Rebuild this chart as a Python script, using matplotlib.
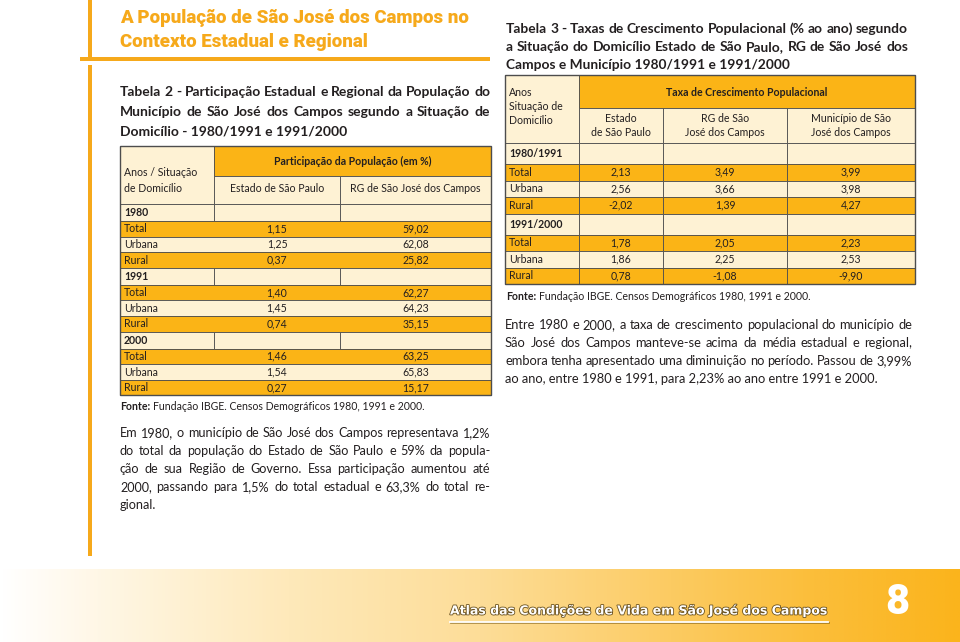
import matplotlib.pyplot as plt
import matplotlib.patheffects as pe
import numpy as np
from matplotlib.patches import Rectangle
from matplotlib.colors import LinearSegmentedColormap

# ---- data ----
t2_groups = ['1980', '1991', '2000']
t2_rows = ['Total', 'Urbana', 'Rural']
t2_estado = [[1.15, 1.25, 0.37], [1.40, 1.45, 0.74], [1.46, 1.54, 0.27]]
t2_rg = [[59.02, 62.08, 25.82], [62.27, 64.23, 35.15], [63.25, 65.83, 15.17]]

t3_groups = ['1980/1991', '1991/2000']
t3_rows = ['Total', 'Urbana', 'Rural']
t3_estado = [[2.13, 2.56, -2.02], [1.78, 1.86, 0.78]]
t3_rg = [[3.49, 3.66, 1.39], [2.05, 2.25, -1.08]]
t3_mun = [[3.99, 3.98, 4.27], [2.23, 2.53, -9.90]]

title = ['A População de São José dos Campos no', 'Contexto Estadual e Regional']
t2_title = ['Tabela 2 - Participação Estadual e Regional da População do',
            'Município de São José dos Campos segundo a Situação de',
            'Domicílio - 1980/1991 e 1991/2000']
t3_title = ['Tabela 3 - Taxas de Crescimento Populacional (% ao ano) segundo',
            'a Situação do Domicílio Estado de São Paulo, RG de São José dos',
            'Campos e Município 1980/1991 e 1991/2000']
fonte = 'Fundação IBGE. Censos Demográficos 1980, 1991 e 2000.'
par_left = ['Em 1980, o município de São José dos Campos representava 1,2%',
            'do total da população do Estado de São Paulo e 59% da popula-',
            'ção de sua Região de Governo. Essa participação aumentou até',
            '2000, passando para 1,5% do total estadual e 63,3% do total re-',
            'gional.']
par_right = ['Entre 1980 e 2000, a taxa de crescimento populacional do município de',
             'São José dos Campos manteve-se acima da média estadual e regional,',
             'embora tenha apresentado uma diminuição no período. Passou de 3,99%',
             'ao ano, entre 1980 e 1991, para 2,23% ao ano entre 1991 e 2000.']
footer = 'Atlas das Condições de Vida em São José dos Campos'
page = '8'

ORANGE = '#FBB416'
CREAM = '#FEF2D4'
GOLD = '#F6A91B'
EDGE = '#4d4d4d'
TXT = '#231f20'
FONT = 'Lato'
FS = 7.6

fig = plt.figure(figsize=(9.6, 6.42), dpi=100)
ax = fig.add_axes([0, 0, 1, 1])
ax.set_xlim(0, 960)
ax.set_ylim(642, 0)
ax.axis('off')
r = fig.canvas.get_renderer()


def fmt(v):
    return f'{v:.2f}'.replace('.', ',')


def width_of(s, size, weight='normal', family=FONT):
    t = ax.text(0, 0, s, fontsize=size, fontweight=weight, family=family)
    w = t.get_window_extent(r).width
    t.remove()
    return w


def fit_size(s, w, weight='normal', family=FONT):
    return 10 * w / width_of(s, 10, weight, family)


def justify(lines, x0, x1, y0, dy, size, weight='normal', color=TXT, last_left=True):
    for i, line in enumerate(lines):
        y = y0 + i * dy
        words = line.split()
        if (i == len(lines) - 1 and last_left) or len(words) < 2:
            ax.text(x0, y, line, fontsize=size, fontweight=weight, family=FONT,
                    color=color, va='center')
            continue
        ts = [ax.text(0, y, w, fontsize=size, fontweight=weight, family=FONT,
                      color=color, va='center') for w in words]
        ws = [t.get_window_extent(r).width for t in ts]
        gap = (x1 - x0 - sum(ws)) / (len(words) - 1)
        x = x0
        for t, w in zip(ts, ws):
            t.set_x(x)
            x += w + gap


def cell(x0, x1, y0, y1, fc, lw=0.6):
    ax.add_patch(Rectangle((x0, y0), x1 - x0, y1 - y0, facecolor=fc,
                           edgecolor=EDGE, lw=lw))


def label(x, y, s, ha='left', weight='normal'):
    ax.text(x, y, s, fontsize=FS, fontweight=weight, family=FONT, color=TXT,
            ha=ha, va='center')


# ---- left orange rule ----
ax.add_patch(Rectangle((88, 0), 4, 57, color=GOLD, lw=0))
ax.add_patch(Rectangle((88, 65), 4, 491, color=GOLD, lw=0))
ax.add_patch(Rectangle((80, 57), 410, 4, color=GOLD, lw=0))

# ---- title ----
ts = fit_size(title[0], 349, 'heavy', 'Roboto')
for i, line in enumerate(title):
    ax.text(120, 18 + i * 24, line, fontsize=ts, fontweight='heavy', family='Roboto',
            color=GOLD, va='center')

# ---- table 2 ----
justify(t2_title, 120, 490, 92, 19.5, fit_size(t2_title[0], 370, 'bold'), weight='bold')

c0, c1, c2, c3 = 120, 214, 340, 491
cell(c0, c1, 146, 204, CREAM)
cell(c1, c3, 146, 176, ORANGE)
cell(c1, c2, 176, 204, CREAM)
cell(c2, c3, 176, 204, CREAM)
label(124, 173, 'Anos / Situação')
label(124, 188, 'de Domicílio')
label((c1 + c3) / 2, 161, 'Participação da População (em %)', 'center', 'bold')
label((c1 + c2) / 2, 188, 'Estado de São Paulo', 'center')
label((c2 + c3) / 2, 188, 'RG de São José dos Campos', 'center')

y = 204
year_h, row_h = 17, 15.6
for g, grp in enumerate(t2_groups):
    for a, b in [(c0, c1), (c1, c2), (c2, c3)]:
        cell(a, b, y, y + year_h, CREAM)
    label(124, y + year_h / 2, grp, weight='bold')
    y += year_h
    for k, lab in enumerate(t2_rows):
        fc = ORANGE if k != 1 else CREAM
        cell(c0, c3, y, y + row_h, fc)
        label(124, y + row_h / 2, lab)
        label((c1 + c2) / 2, y + row_h / 2, fmt(t2_estado[g][k]), 'center')
        label((c2 + c3) / 2, y + row_h / 2, fmt(t2_rg[g][k]), 'center')
        y += row_h
ax.add_patch(Rectangle((c0, 146), c3 - c0, y - 146, fill=False, edgecolor=EDGE, lw=1.0))

ax.text(120, 407, 'Fonte:', fontsize=7.6, fontweight='bold', family=FONT, color=TXT, va='center')
ax.text(120 + width_of('Fonte: ', 7.6, 'bold'), 407, fonte, fontsize=7.6, family=FONT,
        color=TXT, va='center')

justify(par_left, 120, 490, 433, 18, fit_size(par_left[0], 366))

# ---- table 3 ----
justify(t3_title, 506, 908, 29, 18, fit_size(t3_title[0], 402, 'bold'), weight='bold')

d0, d1, d2, d3, d4 = 505, 579, 663, 787, 915
cell(d0, d1, 75, 143, CREAM)
cell(d1, d4, 75, 108, ORANGE)
for a, b in [(d1, d2), (d2, d3), (d3, d4)]:
    cell(a, b, 108, 143, CREAM)
for i, s in enumerate(['Anos', 'Situação de', 'Domicílio']):
    label(509, 92 + i * 14, s)
label((d1 + d4) / 2, 92, 'Taxa de Crescimento Populacional', 'center', 'bold')
heads = [('Estado', 'de São Paulo'), ('RG de São', 'José dos Campos'),
         ('Município de São', 'José dos Campos')]
for (a, b), (h1, h2) in zip([(d1, d2), (d2, d3), (d3, d4)], heads):
    label((a + b) / 2, 118, h1, 'center')
    label((a + b) / 2, 133, h2, 'center')

y = 143
year_h, row_h = 21, 16.5
for g, grp in enumerate(t3_groups):
    for a, b in [(d0, d1), (d1, d2), (d2, d3), (d3, d4)]:
        cell(a, b, y, y + year_h, CREAM)
    label(509, y + year_h / 2, grp, weight='bold')
    y += year_h
    for k, lab in enumerate(t3_rows):
        fc = ORANGE if k != 1 else CREAM
        for a, b in [(d0, d1), (d1, d2), (d2, d3), (d3, d4)]:
            cell(a, b, y, y + row_h, fc)
        label(509, y + row_h / 2, lab)
        for (a, b), vals in zip([(d1, d2), (d2, d3), (d3, d4)], [t3_estado, t3_rg, t3_mun]):
            label((a + b) / 2, y + row_h / 2, fmt(vals[g][k]), 'center')
        y += row_h
ax.add_patch(Rectangle((d0, 75), d4 - d0, y - 75, fill=False, edgecolor=EDGE, lw=1.0))

ax.text(506, 297, 'Fonte:', fontsize=7.6, fontweight='bold', family=FONT, color=TXT, va='center')
ax.text(506 + width_of('Fonte: ', 7.6, 'bold'), 297, fonte, fontsize=7.6, family=FONT,
        color=TXT, va='center')

justify(par_right, 505, 912, 325, 18, fit_size(par_right[0], 404))

# ---- footer band ----
cmap = LinearSegmentedColormap.from_list('band', [
    (0.0, '#FFFFFF'), (0.1, '#FFF7E6'), (0.3, '#FEE9BA'), (0.5, '#FDDD98'),
    (0.7, '#FCCB62'), (0.85, '#FBBE3A'), (1.0, '#FBB41C')])
ax.imshow(np.linspace(0, 1, 512)[None, :], cmap=cmap, aspect='auto',
          extent=[0, 960, 642, 569], zorder=0)
ax.set_xlim(0, 960)
ax.set_ylim(642, 0)

fs = fit_size(footer, 378, 'bold', 'Liberation Sans Narrow')
ax.text(450, 611, footer, fontsize=fs, fontweight='bold', family='Liberation Sans Narrow',
        color='white', va='center', path_effects=[pe.withStroke(linewidth=1.2, foreground='#6a5220')])
ax.plot([450, 828], [622, 622], color='white', lw=1.3,
        path_effects=[pe.SimpleLineShadow(offset=(0.6, -0.6), shadow_color='#7a5a10', alpha=0.6), pe.Normal()])
ax.text(897, 603, page, fontsize=30, fontweight='heavy', family='Roboto',
        color='white', ha='center', va='center')

fig.savefig('out.png', dpi=100)
